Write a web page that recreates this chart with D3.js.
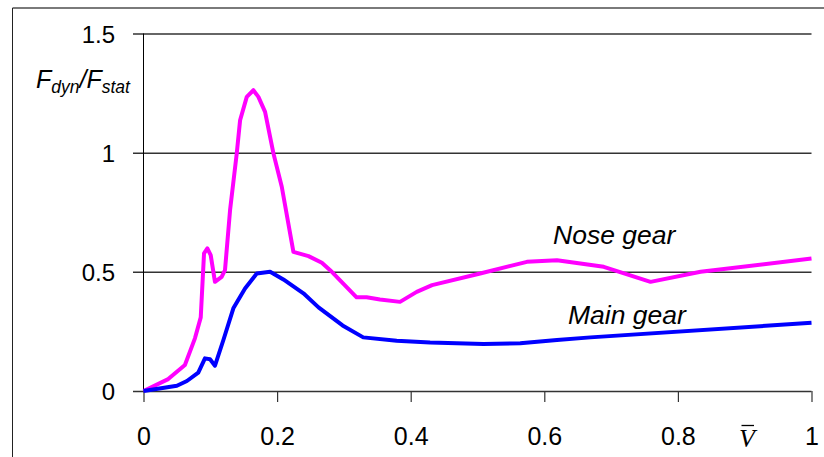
<!DOCTYPE html>
<html><head><meta charset="utf-8">
<script src="https://cdn.jsdelivr.net/npm/d3@7"></script>
<style>body{margin:0;background:#fff}svg{display:block}</style>
</head><body>
<svg id="c" width="824" height="457"></svg>
<script>
const yTicks = [0, 0.5, 1, 1.5];
const yTickLabels = ["0", "0.5", "1", "1.5"];
const xTicks = [0, 0.2, 0.4, 0.6, 0.8, 1];
const xTickLabels = ["0", "0.2", "0.4", "0.6", "0.8", "1"];
const noseV = [0, 0.037, 0.062, 0.077, 0.0857, 0.0906, 0.0956, 0.1006, 0.107, 0.117, 0.122, 0.1296, 0.1396, 0.1446, 0.1546, 0.1645, 0.172, 0.182, 0.1945, 0.207, 0.2244, 0.247, 0.267, 0.2794, 0.319, 0.334, 0.354, 0.384, 0.409, 0.432, 0.504, 0.574, 0.619, 0.689, 0.759, 0.834, 1.0];
const noseF = [0, 0.05, 0.109, 0.221, 0.309, 0.577, 0.598, 0.57, 0.458, 0.479, 0.507, 0.759, 0.997, 1.136, 1.234, 1.262, 1.234, 1.171, 0.997, 0.857, 0.584, 0.566, 0.538, 0.507, 0.393, 0.393, 0.384, 0.374, 0.416, 0.444, 0.493, 0.542, 0.549, 0.521, 0.458, 0.5, 0.556];
const mainV = [0, 0.05, 0.065, 0.082, 0.092, 0.0996, 0.107, 0.1196, 0.1345, 0.152, 0.1696, 0.1895, 0.2094, 0.2394, 0.262, 0.298, 0.329, 0.379, 0.429, 0.509, 0.564, 0.619, 0.669, 1.0];
const mainF = [0, 0.022, 0.042, 0.077, 0.137, 0.133, 0.106, 0.214, 0.347, 0.43, 0.493, 0.5, 0.468, 0.41, 0.351, 0.275, 0.225, 0.211, 0.203, 0.197, 0.2, 0.214, 0.225, 0.286];
const seriesNames = ["Nose gear", "Main gear"];
const seriesColors = ["#ff00ff", "#0000ff"];

const svg = d3.select("#c");
const x = d3.scaleLinear().domain([0, 1]).range([143.5, 811.5]);
const y = d3.scaleLinear().domain([0, 1.5]).range([391, 33.5]);

// outer frame
svg.append("line").attr("x1", 12.5).attr("x2", 824).attr("y1", 8).attr("y2", 8).attr("stroke", "#7a7a7a").attr("stroke-width", 2);
svg.append("line").attr("x1", 12.5).attr("x2", 12.5).attr("y1", 8).attr("y2", 457).attr("stroke", "#222").attr("stroke-width", 1);

// gridlines (also y ticks)
const yAxis = d3.axisLeft(y).tickValues(yTicks).tickSize(-(811.5 - 133)).tickFormat((d, i) => yTickLabels[i]);
const gy = svg.append("g").attr("transform", "translate(133,0)").call(yAxis);
gy.select(".domain").remove();
gy.selectAll(".tick line").attr("stroke", "#333").attr("stroke-width", 1.5);
gy.selectAll(".tick text").attr("x", -18).attr("dy", "0.36em").attr("font-family", "Liberation Sans, Arial, sans-serif").attr("font-size", 24).attr("fill", "#000");

// y axis line
svg.append("line").attr("x1", 143.5).attr("x2", 143.5).attr("y1", y(1.5)).attr("y2", y(0)).attr("stroke", "#000").attr("stroke-width", 1);

// x axis
const xAxis = d3.axisBottom(x).tickValues(xTicks).tickSize(11).tickSizeOuter(0).tickFormat((d, i) => xTickLabels[i]);
const gx = svg.append("g").attr("transform", `translate(0,${y(0)})`).call(xAxis);
gx.select(".domain").remove();
gx.selectAll(".tick line").attr("stroke", "#333").attr("stroke-width", 1.2);
gx.selectAll(".tick text").attr("y", 54).attr("dy", 0).attr("font-family", "Liberation Sans, Arial, sans-serif").attr("font-size", 25).attr("fill", "#000");

// lines
const line = d3.line().x(d => x(d[0])).y(d => y(d[1]));
const noseData = noseV.map((v, i) => [v, noseF[i]]);
const mainData = mainV.map((v, i) => [v, mainF[i]]);
[noseData, mainData].forEach((dat, i) => {
  svg.append("path").datum(dat).attr("d", line).attr("fill", "none")
    .attr("stroke", seriesColors[i]).attr("stroke-width", 4).attr("stroke-linejoin", "round");
});

// series labels
const italicFont = "Liberation Sans, Arial, sans-serif";
svg.append("text").attr("x", 553).attr("y", 243.5).attr("font-family", italicFont).attr("font-style", "italic").attr("font-size", 26.5).text(seriesNames[0]);
svg.append("text").attr("x", 568).attr("y", 323.5).attr("font-family", italicFont).attr("font-style", "italic").attr("font-size", 26.5).text(seriesNames[1]);

// y label
const yl = svg.append("text").attr("x", 36).attr("y", 88).attr("font-family", italicFont).attr("font-style", "italic").attr("font-size", 25);
yl.append("tspan").text("F");
yl.append("tspan").attr("font-size", 17.5).attr("dy", 5).text("dyn");
yl.append("tspan").attr("dy", -5).text("/F");
yl.append("tspan").attr("font-size", 17.5).attr("dy", 5).text("stat");

// V bar label
svg.append("text").attr("x", 739).attr("y", 446.7).attr("font-family", "Liberation Serif, Times New Roman, serif").attr("font-style", "italic").attr("font-size", 26).text("V");
svg.append("line").attr("x1", 741.5).attr("x2", 754).attr("y1", 425.5).attr("y2", 425.5).attr("stroke", "#000").attr("stroke-width", 1.3);
</script>
</body></html>
